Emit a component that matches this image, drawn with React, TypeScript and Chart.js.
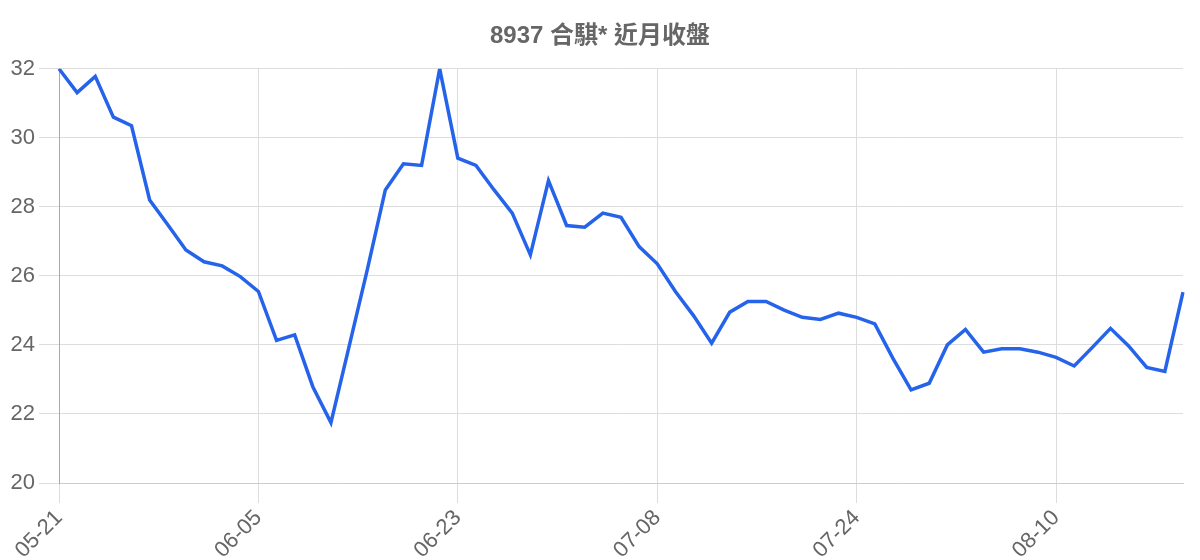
import { useEffect, useRef } from 'react'
import { Chart, registerables } from 'chart.js'

Chart.register(...registerables)

const TITLE = '8937 合騏* 近月收盤'
const FONT = "'Liberation Sans', Arial, 'Noto Sans CJK TC', sans-serif"
const C_LINE = '#2563eb'
const C_TEXT = '#666666'
const C_GRID = '#dddddd'

const dates = [
  '05-21', '05-22', '05-23', '05-24', '05-27', '05-28', '05-29', '05-30', '05-31', '06-03', '06-04',
  '06-05', '06-06', '06-07', '06-10', '06-11', '06-12', '06-13', '06-14', '06-17', '06-18', '06-20',
  '06-23', '06-24', '06-25', '06-26', '06-27', '06-30', '07-01', '07-02', '07-03', '07-04', '07-07',
  '07-08', '07-09', '07-10', '07-11', '07-14', '07-15', '07-16', '07-17', '07-18', '07-21', '07-22',
  '07-24', '07-25', '07-28', '07-29', '07-30', '07-31', '08-01', '08-04', '08-05', '08-06', '08-07',
  '08-10', '08-11', '08-12', '08-13', '08-14', '08-15', '08-18', '08-19',
]

const closes = [
  32.0, 31.31, 31.78, 30.6, 30.35, 28.2, 27.48, 26.75, 26.41, 26.29, 25.98,
  25.55, 24.13, 24.29, 22.79, 21.75, 23.95, 26.17, 28.49, 29.25, 29.2, 32.0,
  29.41, 29.2, 28.49, 27.82, 26.61, 28.76, 27.46, 27.41, 27.82, 27.7, 26.85,
  26.35, 25.55, 24.85, 24.05, 24.95, 25.26, 25.26, 25.01, 24.8, 24.74, 24.92,
  24.8, 24.61, 23.61, 22.7, 22.89, 24.0, 24.45, 23.79, 23.89, 23.89, 23.79,
  23.64, 23.39, 23.93, 24.48, 23.97, 23.35, 23.23, 25.53,
]

const Y_MIN = 20
const Y_MAX = 32
const Y_STEP = 2
const LABEL_EVERY = 11

export default function App() {
  const canvasRef = useRef<HTMLCanvasElement | null>(null)

  useEffect(() => {
    if (!canvasRef.current) return undefined
    const chart = new Chart(canvasRef.current, {
      type: 'line',
      data: {
        labels: dates,
        datasets: [
          {
            label: '收盤',
            data: closes,
            borderColor: C_LINE,
            borderWidth: 3.5,
            pointRadius: 0,
            tension: 0,
            fill: false,
          },
        ],
      },
      options: {
        animation: false,
        responsive: true,
        maintainAspectRatio: false,
        layout: { padding: 0 },
        plugins: {
          legend: { display: false },
          tooltip: { enabled: false },
          title: {
            display: true,
            text: TITLE,
            color: C_TEXT,
            font: { family: FONT, size: 24, weight: 'bold' },
            padding: { top: 22, bottom: 18 },
          },
        },
        scales: {
          x: {
            grid: { color: C_GRID, tickColor: C_GRID, tickLength: 20 },
            border: { color: '#cccccc' },
            ticks: {
              autoSkip: false,
              maxRotation: 45,
              minRotation: 45,
              padding: 2,
              color: C_TEXT,
              font: { family: FONT, size: 22 },
              // only every 11th day gets a label (and a grid line)
              callback: (_value, index) => (index % LABEL_EVERY === 0 ? dates[index] : null),
            },
            afterFit: (scale) => {
              scale.height = 77
              scale.paddingLeft = 0
              scale.paddingRight = 17
            },
          },
          y: {
            min: Y_MIN,
            max: Y_MAX,
            grid: { color: C_GRID, tickColor: C_GRID, tickLength: 20 },
            border: { color: '#aaaaaa' },
            ticks: {
              stepSize: Y_STEP,
              padding: 4,
              color: C_TEXT,
              font: { family: FONT, size: 22 },
            },
            afterFit: (scale) => {
              scale.width = 59
            },
          },
        },
      },
    })
    return () => chart.destroy()
  }, [])

  return (
    <div style={{ position: 'fixed', left: 0, top: 0, width: 1200, height: 560, background: '#fff' }}>
      <canvas ref={canvasRef} />
    </div>
  )
}
